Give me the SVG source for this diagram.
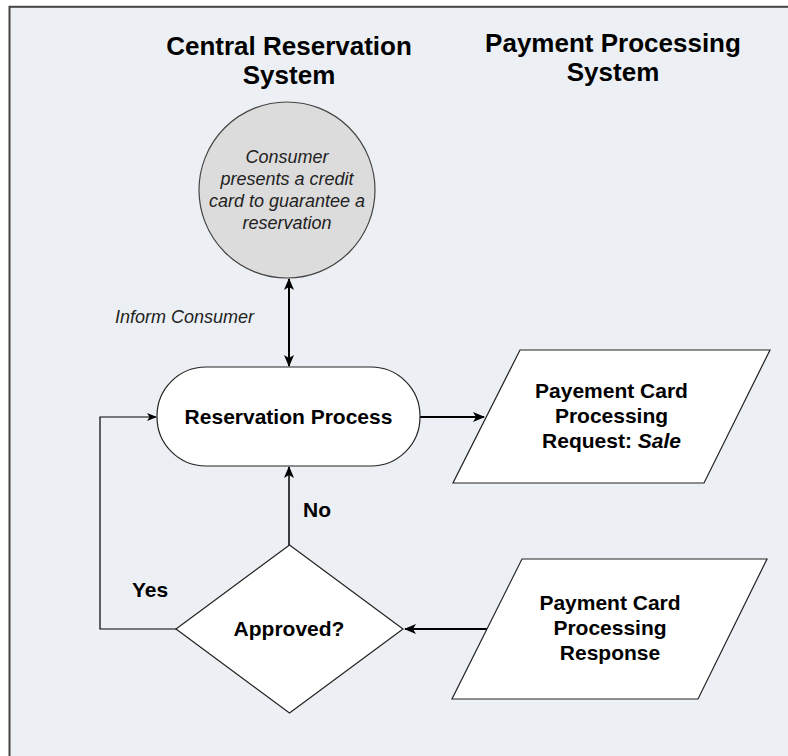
<svg xmlns="http://www.w3.org/2000/svg" width="788" height="756" viewBox="0 0 788 756">
  <style>
    .title { font-family: "Liberation Sans", Arial, sans-serif; font-weight: bold; font-size: 26px; fill: #000; text-anchor: middle; }
    .bold { font-family: "Liberation Sans", Arial, sans-serif; font-weight: bold; font-size: 21px; fill: #000; text-anchor: middle; }
    .ital { font-family: "Liberation Sans", Arial, sans-serif; font-style: italic; font-size: 18px; fill: #222; }
    .shape { fill: #fff; stroke: #222; stroke-width: 1.2; }
    .wire { fill: none; stroke: #000; }
  </style>
  <defs>
    <marker id="head" viewBox="0 0 12 10" refX="11" refY="5" markerWidth="12" markerHeight="10" markerUnits="userSpaceOnUse" orient="auto-start-reverse">
      <path d="M0,0 L12,5 L0,10 L3,5 Z" fill="#000"/>
    </marker>
    <marker id="headSmall" viewBox="0 0 10 8" refX="9" refY="4" markerWidth="10" markerHeight="8" markerUnits="userSpaceOnUse" orient="auto">
      <path d="M0,0 L10,4 L0,8 L2.5,4 Z" fill="#000"/>
    </marker>
  </defs>

  <!-- page background and frame -->
  <rect x="0" y="0" width="788" height="756" fill="#fff"/>
  <rect x="9.5" y="6.8" width="790" height="760" fill="#ECF0F4" stroke="#444" stroke-width="2"/>

  <!-- column headings -->
  <g id="heading-crs">
    <text class="title" x="289" y="55">Central Reservation</text>
    <text class="title" x="289" y="84">System</text>
  </g>
  <g id="heading-pps">
    <text class="title" x="613" y="52">Payment Processing</text>
    <text class="title" x="613" y="81">System</text>
  </g>

  <!-- connectors -->
  <g id="connectors">
    <line class="wire" x1="289" y1="279" x2="289" y2="366" stroke-width="2" marker-start="url(#head)" marker-end="url(#head)"/>
    <line class="wire" x1="420" y1="417" x2="484" y2="417" stroke-width="2" marker-end="url(#head)"/>
    <line class="wire" x1="289" y1="545" x2="289" y2="467" stroke-width="1.5" marker-end="url(#head)"/>
    <polyline class="wire" points="176,629 100,629 100,417 156,417" stroke-width="1.2" marker-end="url(#headSmall)"/>
    <line class="wire" x1="487" y1="629" x2="405" y2="629" stroke-width="2" marker-end="url(#head)"/>
    <text class="ital" x="115" y="323">Inform Consumer</text>
    <text class="bold" x="317" y="517">No</text>
    <text class="bold" x="150" y="597">Yes</text>
  </g>

  <!-- start event -->
  <g id="consumer">
    <circle cx="287" cy="190" r="88" fill="#DCDCDC" stroke="#444" stroke-width="1.2"/>
    <text class="ital" text-anchor="middle" x="287" y="163">Consumer</text>
    <text class="ital" text-anchor="middle" x="287" y="185">presents a credit</text>
    <text class="ital" text-anchor="middle" x="287" y="207">card to guarantee a</text>
    <text class="ital" text-anchor="middle" x="287" y="229">reservation</text>
  </g>

  <!-- process step -->
  <g id="reservation-process">
    <rect class="shape" x="157" y="367" width="263" height="99" rx="49" ry="49"/>
    <text class="bold" x="288.5" y="424">Reservation Process</text>
  </g>

  <!-- outgoing request -->
  <g id="payment-request">
    <polygon class="shape" points="520,350 770,350 704,483 453,483"/>
    <text class="bold" x="611.5" y="398">Payement Card</text>
    <text class="bold" x="611.5" y="423">Processing</text>
    <text class="bold" x="611.5" y="448">Request: <tspan font-style="italic">Sale</tspan></text>
  </g>

  <!-- decision -->
  <g id="approved">
    <polygon class="shape" points="289.5,545 403,629 289.5,713 176,629"/>
    <text class="bold" x="289" y="636">Approved?</text>
  </g>

  <!-- incoming response -->
  <g id="payment-response">
    <polygon class="shape" points="522,559 767,559 698,699 452,699"/>
    <text class="bold" x="610" y="610">Payment Card</text>
    <text class="bold" x="610" y="635">Processing</text>
    <text class="bold" x="610" y="660">Response</text>
  </g>
</svg>
